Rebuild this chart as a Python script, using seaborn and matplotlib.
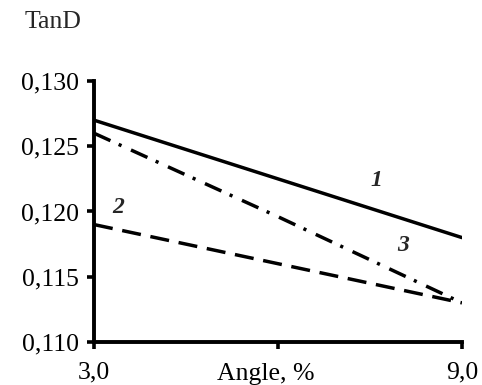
import seaborn as sns
import pandas as pd
import matplotlib.pyplot as plt

# data
angle = [3.0, 6.0, 9.0]
tand_1 = [0.127, 0.1225, 0.118]
tand_2 = [0.119, 0.116, 0.113]
tand_3 = [0.126, 0.1196, 0.113]
curve_names = ['1', '2', '3']

x_ticks = [3.0, 6.0, 9.0]
x_labels = ['3,0', '', '9,0']
y_ticks = [0.110, 0.115, 0.120, 0.125, 0.130]
y_labels = ['0,110', '0,115', '0,120', '0,125', '0,130']

# curve number labels: (x, y)
label_pos = {'1': (7.61, 0.1224), '2': (3.39, 0.1203), '3': (8.04, 0.1174)}

df = pd.DataFrame({
    'angle': angle * 3,
    'tand': tand_1 + tand_2 + tand_3,
    'curve': [c for c in curve_names for _ in angle],
})

sns.set_style('ticks')
plt.rcParams['font.family'] = ['Liberation Serif', 'DejaVu Serif']

fig = plt.figure(figsize=(4.82, 3.85), dpi=100)
ax = fig.add_axes([0.195, 0.1117, 0.7635, 0.6779])

sns.lineplot(data=df, x='angle', y='tand', style='curve', color='black',
             dashes={'1': '', '2': (5.5, 2.8), '3': (5.2, 2.6, 0.9, 3.0)},
             linewidth=2.5, legend=False, ax=ax)

ax.set_xlim(3.0, 9.0)
ax.set_ylim(0.110, 0.130)
ax.set_xticks(x_ticks)
ax.set_xticklabels(x_labels)
ax.set_yticks(y_ticks)
ax.set_yticklabels(y_labels)
ax.tick_params(axis='both', labelsize=18.5, width=2.6, length=5, color='black',
               labelcolor='black', direction='out')
ax.tick_params(axis='x', pad=9)
ax.tick_params(axis='y', pad=6)

for s in ['top', 'right']:
    ax.spines[s].set_visible(False)
for s in ['left', 'bottom']:
    ax.spines[s].set_linewidth(2.8)
    ax.spines[s].set_color('black')

ax.set_xlabel('Angle, %', fontsize=18.5, color='black')
ax.xaxis.set_label_coords((266 - 94) / 368, -0.082)
ax.set_ylabel('')

fig.text(25 / 482, 1 - 28 / 385, 'TanD', fontsize=18.5, va='baseline', ha='left')

for name, (lx, ly) in label_pos.items():
    ax.text(lx, ly, name, fontsize=17, fontweight='bold', fontstyle='italic',
            ha='center', va='center')

plt.savefig('out.png', dpi=100)
